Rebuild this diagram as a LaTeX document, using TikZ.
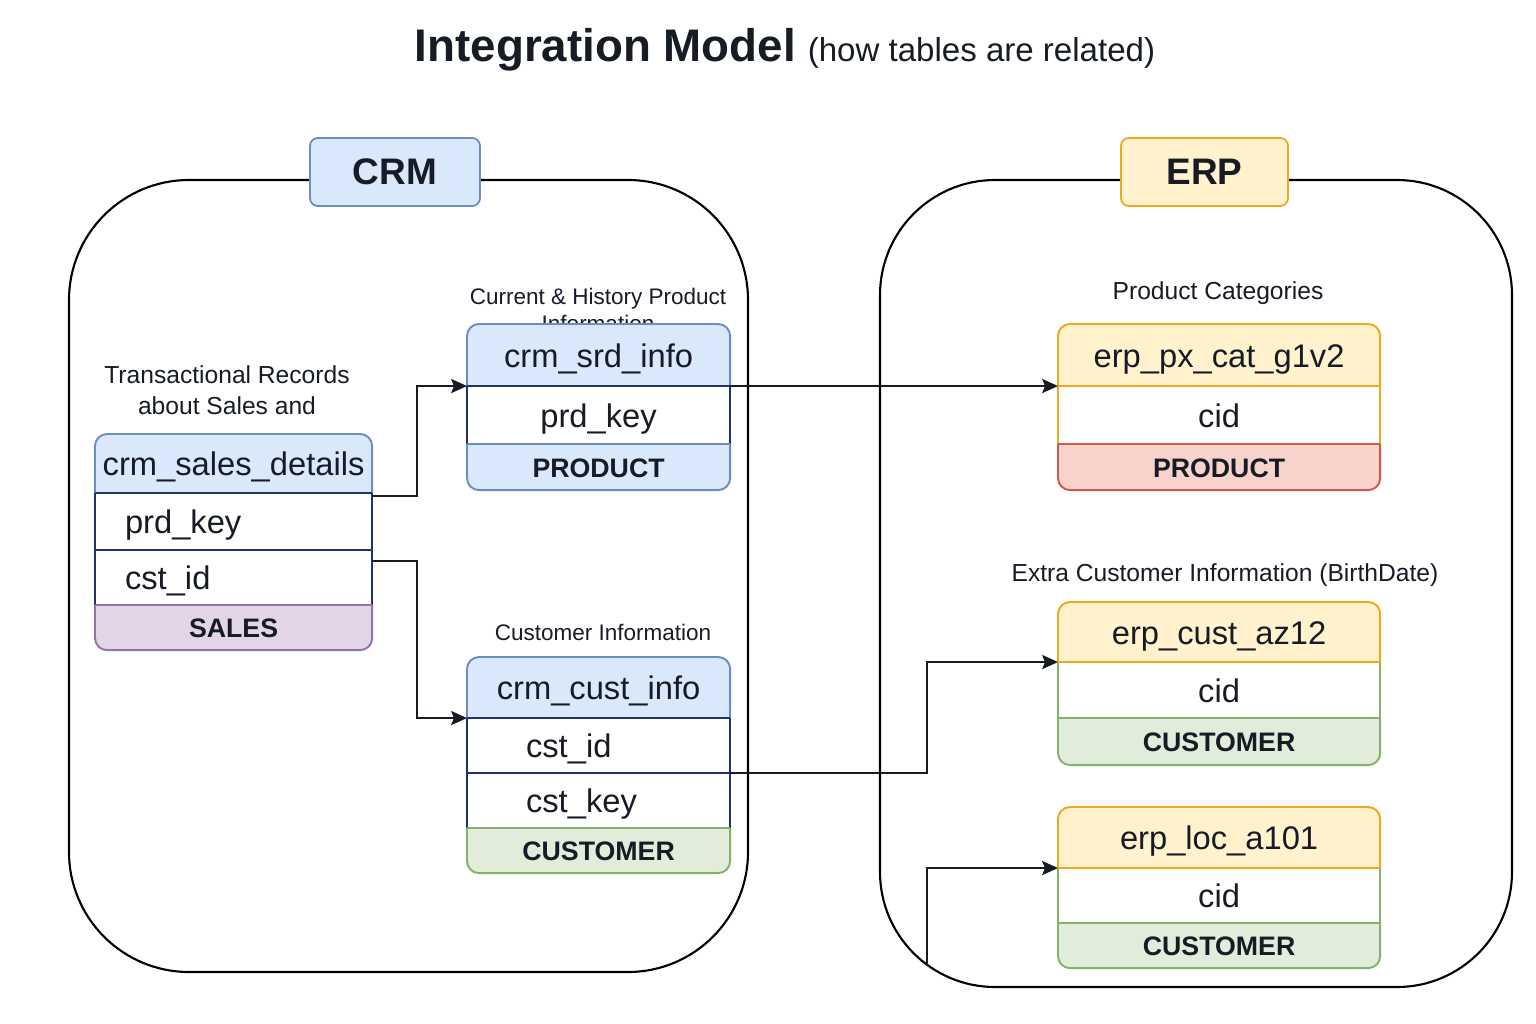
\documentclass[tikz,border=0pt]{standalone}
\usepackage{fontspec}
\setmainfont{Liberation Sans}
\usetikzlibrary{positioning,arrows.meta}

\definecolor{ink}{HTML}{161B26}
\definecolor{crmfill}{HTML}{DAE8FC}
\definecolor{crmline}{HTML}{6C8EBF}
\definecolor{navy}{HTML}{1E3370}
\definecolor{salesfill}{HTML}{E1D5E7}
\definecolor{salesline}{HTML}{9673A6}
\definecolor{erpfill}{HTML}{FFF2CC}
\definecolor{erpline}{HTML}{F0A81E}
\definecolor{prodfill}{HTML}{F8D3CC}
\definecolor{prodline}{HTML}{D4584A}
\definecolor{custfill}{HTML}{E2ECDA}
\definecolor{custline}{HTML}{82B366}

\tikzset{
  cell/.style={inner sep=0pt, outer sep=0pt, text=ink, anchor=north},
  hd/.style={cell, font=\fontsize{9.3}{11}\selectfont, text height=0.3cm, text depth=0.06cm},
  row/.style={cell, fill=white, font=\fontsize{9.3}{11}\selectfont, text height=0.3cm, text depth=0.06cm},
  ft/.style={cell, font=\bfseries\fontsize{7.6}{9}\selectfont, text height=0.25cm, text depth=0.05cm},
  tline/.style={line width=0.55pt},
  note/.style={text=ink, align=center, font=\fontsize{7}{8.8}\selectfont},
  link/.style={draw=ink, line width=0.6pt, -{Stealth[length=4.5pt,width=4pt,inset=0.8pt]}},
  group/.style={draw=black, line width=0.6pt},
  tag/.style={draw, line width=0.5pt, rounded corners=0.08cm, minimum width=1.7cm,
    minimum height=0.68cm, font=\bfseries\fontsize{10.5}{12}\selectfont, text=ink},
}

\begin{document}
\begin{tikzpicture}[x=0.01cm, y=-0.01cm]
\useasboundingbox (0,0) rectangle (1536,1024);

% title
\node[text=ink] (title) at (785,50) {{\bfseries\fontsize{13}{15}\selectfont Integration Model}\hspace{0.12cm}{\fontsize{9.4}{11}\selectfont (how tables are related)}};

% the two systems
\draw[group, rounded corners=1.2cm] (69,180) rectangle (748,972);
\draw[group, rounded corners=1.15cm] (880,180) rectangle (1512,987);
\node[tag, draw=crmline, fill=crmfill, minimum width=1.7cm] (crm) at (395,172) {CRM};
\node[tag, draw=erpline, fill=erpfill, minimum width=1.67cm] (erp) at (1204.5,172) {ERP};

% notes
\node[note] (sales-t) at (227,390) {Transactional Records\\about Sales and};
\node[note, font=\fontsize{6.4}{7.6}\selectfont] (srd-t) at (598,310) {Current \& History Product\\Information};
\node[note, font=\fontsize{6.4}{7.6}\selectfont] (cust-t) at (603,632) {Customer Information};
\node[note] (pxcat-t) at (1218,293) {Product Categories};
\node[note] (az12-t) at (1225,575) {Extra Customer Information (BirthDate)};

% crm_sales_details
\begin{scope}
\clip[rounded corners=0.12cm] (95,434) rectangle (372,650);
\node[hd, fill=crmfill, minimum width=2.77cm, minimum height=0.59cm, anchor=north west] (sales-h) at (95,434) {crm\_sales\_details};
\node[row, text width=2.17cm, inner xsep=0.3cm, minimum height=0.57cm, below=0pt of sales-h] (sales-r1) {prd\_key};
\node[row, text width=2.17cm, inner xsep=0.3cm, minimum height=0.55cm, below=0pt of sales-r1] (sales-r2) {cst\_id};
\node[ft, fill=salesfill, minimum width=2.77cm, minimum height=0.45cm, below=0pt of sales-r2] (sales-f) {SALES};
\end{scope}
\draw[crmline, tline, rounded corners=0.12cm] (sales-h.south west) -- (sales-h.north west) -- (sales-h.north east) -- (sales-h.south east);
\draw[navy, tline] (sales-h.south west) -- (sales-f.north west) (sales-h.south east) -- (sales-f.north east)
  (sales-h.south west) -- (sales-h.south east) (sales-r1.south west) -- (sales-r1.south east);
\draw[salesline, tline] (sales-f.north west) -- (sales-f.north east);
\draw[salesline, tline, rounded corners=0.12cm] (sales-f.north west) -- (sales-f.south west) -- (sales-f.south east) -- (sales-f.north east);

% crm_srd_info
\begin{scope}
\clip[rounded corners=0.12cm] (467,324) rectangle (730,490);
\node[hd, fill=crmfill, minimum width=2.63cm, minimum height=0.62cm, anchor=north west] (srd-h) at (467,324) {crm\_srd\_info};
\node[row, minimum width=2.63cm, minimum height=0.58cm, below=0pt of srd-h] (srd-r1) {prd\_key};
\node[ft, fill=crmfill, minimum width=2.63cm, minimum height=0.46cm, below=0pt of srd-r1] (srd-f) {PRODUCT};
\end{scope}
\draw[crmline, tline, rounded corners=0.12cm] (srd-h.south west) -- (srd-h.north west) -- (srd-h.north east) -- (srd-h.south east);
\draw[navy, tline] (srd-h.south west) -- (srd-f.north west) (srd-h.south east) -- (srd-f.north east)
  (srd-h.south west) -- (srd-h.south east);
\draw[crmline, tline] (srd-f.north west) -- (srd-f.north east);
\draw[crmline, tline, rounded corners=0.12cm] (srd-f.north west) -- (srd-f.south west) -- (srd-f.south east) -- (srd-f.north east);

% crm_cust_info
\begin{scope}
\clip[rounded corners=0.12cm] (467,657) rectangle (730,873);
\node[hd, fill=crmfill, minimum width=2.63cm, minimum height=0.61cm, anchor=north west] (cust-h) at (467,657) {crm\_cust\_info};
\node[row, text width=1.45cm, inner xsep=0.59cm, minimum height=0.55cm, below=0pt of cust-h] (cust-r1) {cst\_id};
\node[row, text width=1.45cm, inner xsep=0.59cm, minimum height=0.55cm, below=0pt of cust-r1] (cust-r2) {cst\_key};
\node[ft, fill=custfill, minimum width=2.63cm, minimum height=0.45cm, below=0pt of cust-r2] (cust-f) {CUSTOMER};
\end{scope}
\draw[crmline, tline, rounded corners=0.12cm] (cust-h.south west) -- (cust-h.north west) -- (cust-h.north east) -- (cust-h.south east);
\draw[navy, tline] (cust-h.south west) -- (cust-f.north west) (cust-h.south east) -- (cust-f.north east)
  (cust-h.south west) -- (cust-h.south east) (cust-r1.south west) -- (cust-r1.south east);
\draw[custline, tline] (cust-f.north west) -- (cust-f.north east);
\draw[custline, tline, rounded corners=0.12cm] (cust-f.north west) -- (cust-f.south west) -- (cust-f.south east) -- (cust-f.north east);

% erp_px_cat_g1v2
\begin{scope}
\clip[rounded corners=0.12cm] (1058,324) rectangle (1380,490);
\node[hd, fill=erpfill, minimum width=3.22cm, minimum height=0.62cm, anchor=north west] (pxcat-h) at (1058,324) {erp\_px\_cat\_g1v2};
\node[row, minimum width=3.22cm, minimum height=0.58cm, below=0pt of pxcat-h] (pxcat-r1) {cid};
\node[ft, fill=prodfill, minimum width=3.22cm, minimum height=0.46cm, below=0pt of pxcat-r1] (pxcat-f) {PRODUCT};
\end{scope}
\draw[erpline, tline, rounded corners=0.12cm] (pxcat-h.south west) -- (pxcat-h.north west) -- (pxcat-h.north east) -- (pxcat-h.south east);
\draw[erpline, tline] (pxcat-h.south west) -- (pxcat-f.north west) (pxcat-h.south east) -- (pxcat-f.north east)
  (pxcat-h.south west) -- (pxcat-h.south east);
\draw[prodline, tline] (pxcat-f.north west) -- (pxcat-f.north east);
\draw[prodline, tline, rounded corners=0.12cm] (pxcat-f.north west) -- (pxcat-f.south west) -- (pxcat-f.south east) -- (pxcat-f.north east);

% erp_cust_az12
\begin{scope}
\clip[rounded corners=0.12cm] (1058,602) rectangle (1380,765);
\node[hd, fill=erpfill, minimum width=3.22cm, minimum height=0.60cm, anchor=north west] (az12-h) at (1058,602) {erp\_cust\_az12};
\node[row, minimum width=3.22cm, minimum height=0.56cm, below=0pt of az12-h] (az12-r1) {cid};
\node[ft, fill=custfill, minimum width=3.22cm, minimum height=0.47cm, below=0pt of az12-r1] (az12-f) {CUSTOMER};
\end{scope}
\draw[custline, tline] (az12-h.south west) -- (az12-f.north west) (az12-h.south east) -- (az12-f.north east);
\draw[erpline, tline, rounded corners=0.12cm] (az12-h.south west) -- (az12-h.north west) -- (az12-h.north east) -- (az12-h.south east);
\draw[erpline, tline] (az12-h.south west) -- (az12-h.south east);
\draw[custline, tline] (az12-f.north west) -- (az12-f.north east);
\draw[custline, tline, rounded corners=0.12cm] (az12-f.north west) -- (az12-f.south west) -- (az12-f.south east) -- (az12-f.north east);

% erp_loc_a101
\begin{scope}
\clip[rounded corners=0.12cm] (1058,807) rectangle (1380,968);
\node[hd, fill=erpfill, minimum width=3.22cm, minimum height=0.61cm, anchor=north west] (loc-h) at (1058,807) {erp\_loc\_a101};
\node[row, minimum width=3.22cm, minimum height=0.55cm, below=0pt of loc-h] (loc-r1) {cid};
\node[ft, fill=custfill, minimum width=3.22cm, minimum height=0.45cm, below=0pt of loc-r1] (loc-f) {CUSTOMER};
\end{scope}
\draw[custline, tline] (loc-h.south west) -- (loc-f.north west) (loc-h.south east) -- (loc-f.north east);
\draw[erpline, tline, rounded corners=0.12cm] (loc-h.south west) -- (loc-h.north west) -- (loc-h.north east) -- (loc-h.south east);
\draw[erpline, tline] (loc-h.south west) -- (loc-h.south east);
\draw[custline, tline] (loc-f.north west) -- (loc-f.north east);
\draw[custline, tline, rounded corners=0.12cm] (loc-f.north west) -- (loc-f.south west) -- (loc-f.south east) -- (loc-f.north east);

% relations
\coordinate (erp-in) at (927,966);
\draw[link] ([yshift=-0.03cm]sales-h.south east) -- ++(45,0) |- (srd-h.south west);
\draw[link] ([yshift=-0.11cm]sales-r2.north east) -- ++(45,0) |- (cust-h.south west);
\draw[link] (srd-h.south east) -- (pxcat-h.south west);
\draw[link] (cust-r1.south east) -- ++(197,0) |- (az12-h.south west);
\draw[link] (erp-in) |- (loc-h.south west);
\end{tikzpicture}
\end{document}
